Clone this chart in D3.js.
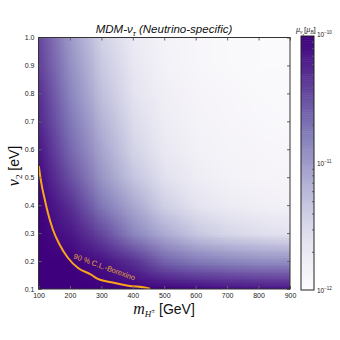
<!DOCTYPE html>
<html>
<head>
<meta charset="utf-8">
<script src="https://cdn.jsdelivr.net/npm/d3@7"></script>
<style>
  body { margin: 0; background: #fff; }
  text { font-family: "Liberation Sans", Arial, sans-serif; }
</style>
</head>
<body>
<svg id="chart" width="340" height="340"></svg>
<script>
// grid of the density plot
const massValues = [100, 200, 300, 400, 500, 600, 700, 800, 900];
const v2Values = [0.1, 0.2, 0.3, 0.4, 0.5, 0.6, 0.7, 0.8, 0.9, 1.0];

// log10(mu / mu_B), one row per v2 value (0.1 first), one entry per mass
const logMuRows = [
  [-10.0, -10.0, -10.0, -10.0, -10.0, -10.04, -10.08, -10.1, -10.12],
  [-10.0, -10.0, -10.1, -10.3, -10.6, -10.74, -10.82, -10.88, -10.9],
  [-10.0, -10.14, -10.44, -10.84, -11.12, -11.34, -11.48, -11.56, -11.62],
  [-10.0, -10.3, -10.74, -11.1, -11.42, -11.62, -11.74, -11.8, -11.84],
  [-10.06, -10.5, -10.96, -11.32, -11.6, -11.76, -11.84, -11.88, -11.9],
  [-10.14, -10.64, -11.08, -11.46, -11.7, -11.82, -11.87, -11.9, -11.92],
  [-10.24, -10.74, -11.18, -11.54, -11.76, -11.86, -11.9, -11.93, -11.94],
  [-10.3, -10.84, -11.28, -11.62, -11.8, -11.88, -11.92, -11.94, -11.96],
  [-10.4, -10.92, -11.36, -11.68, -11.84, -11.91, -11.94, -11.96, -11.97],
  [-10.44, -11.0, -11.44, -11.72, -11.86, -11.92, -11.95, -11.97, -11.98]
];

// 90% C.L. Borexino contour
const borexinoMass = [101, 109, 120, 130, 146, 167, 194, 226, 268, 284, 332, 385, 449, 455];
const borexinoV2 = [0.54, 0.479, 0.42, 0.372, 0.312, 0.259, 0.211, 0.175, 0.151, 0.139, 0.124, 0.112, 0.103, 0.1];

const xTicks = [100, 200, 300, 400, 500, 600, 700, 800, 900];
const yTicks = [0.1, 0.2, 0.3, 0.4, 0.5, 0.6, 0.7, 0.8, 0.9, 1.0];
const colorbarTicks = [1e-12, 1e-11, 1e-10];

const svg = d3.select('#chart');
const margin = { left: 38.5, right: 290, top: 37.5, bottom: 289 };

const x = d3.scaleLinear().domain([100, 900]).range([margin.left, margin.right]);
const y = d3.scaleLinear().domain([0.1, 1.0]).range([margin.bottom, margin.top]);
const muScale = d3.scaleLog().domain([1e-12, 1e-10]).range([0, 1]).clamp(true);
const color = (mu) => d3.interpolatePurples(muScale(mu));

// density: one pixel per grid point, the browser smooths it when scaled up
const cv = document.createElement('canvas');
cv.width = massValues.length;
cv.height = v2Values.length;
const ctx = cv.getContext('2d');
logMuRows.forEach((row, j) => {
  row.forEach((lm, i) => {
    ctx.fillStyle = color(Math.pow(10, lm));
    ctx.fillRect(i, v2Values.length - 1 - j, 1, 1);
  });
});

const halfX = (x(massValues[1]) - x(massValues[0])) / 2;
const halfY = (y(v2Values[0]) - y(v2Values[1])) / 2;

svg.append('clipPath')
    .attr('id', 'plot-clip')
  .append('rect')
    .attr('x', margin.left)
    .attr('y', margin.top)
    .attr('width', margin.right - margin.left)
    .attr('height', margin.bottom - margin.top);

svg.append('image')
  .attr('href', cv.toDataURL())
  .attr('x', x(massValues[0]) - halfX)
  .attr('y', y(v2Values[v2Values.length - 1]) - halfY)
  .attr('width', x(massValues[massValues.length - 1]) - x(massValues[0]) + 2 * halfX)
  .attr('height', y(v2Values[0]) - y(v2Values[v2Values.length - 1]) + 2 * halfY)
  .attr('preserveAspectRatio', 'none')
  .attr('clip-path', 'url(#plot-clip)');

// contour
const line = d3.line()
  .x((d, i) => x(borexinoMass[i]))
  .y((d, i) => y(borexinoV2[i]))
  .curve(d3.curveMonotoneX);

svg.append('path')
  .datum(borexinoMass)
  .attr('d', line)
  .attr('fill', 'none')
  .attr('stroke', '#f9a51a')
  .attr('stroke-width', 2)
  .attr('clip-path', 'url(#plot-clip)');

svg.append('text')
  .attr('transform', `translate(${x(210)},${y(0.21)}) rotate(20)`)
  .attr('font-size', 7.5)
  .attr('fill', '#e0a13a')
  .text('90 % C.L.-Borexino');

// axes, ticks pointing inwards
const styleAxis = (g) => {
  g.select('.domain').remove();
  g.selectAll('.tick line').attr('stroke', '#666');
  g.selectAll('.tick text')
    .attr('font-size', 7)
    .attr('fill', '#222')
    .attr('font-family', '"Liberation Sans", Arial, sans-serif');
};

svg.append('g')
  .attr('transform', `translate(0,${margin.bottom})`)
  .call(d3.axisBottom(x).tickValues(xTicks).tickSize(-3).tickPadding(4))
  .call(styleAxis);

svg.append('g')
  .attr('transform', `translate(0,${margin.top})`)
  .call(d3.axisTop(x).tickValues(xTicks).tickSize(-3).tickFormat(''))
  .call(styleAxis);

svg.append('g')
  .attr('transform', `translate(${margin.left},0)`)
  .call(d3.axisLeft(y).tickValues(yTicks).tickSize(-3).tickPadding(4).tickFormat(d3.format('.1f')))
  .call(styleAxis);

svg.append('g')
  .attr('transform', `translate(${margin.right},0)`)
  .call(d3.axisRight(y).tickValues(yTicks).tickSize(-3).tickFormat(''))
  .call(styleAxis);

svg.append('rect')
  .attr('x', margin.left)
  .attr('y', margin.top)
  .attr('width', margin.right - margin.left)
  .attr('height', margin.bottom - margin.top)
  .attr('fill', 'none')
  .attr('stroke', '#333')
  .attr('stroke-width', 1);

// title
const title = svg.append('text')
  .attr('x', 164)
  .attr('y', 33)
  .attr('text-anchor', 'middle')
  .attr('font-size', 11.5)
  .attr('font-style', 'italic')
  .attr('fill', '#111');
title.append('tspan').text('MDM-ν');
title.append('tspan').attr('font-size', 8).attr('dy', 3).text('τ');
title.append('tspan').attr('dy', -3).text(' (Neutrino-specific)');

// x label
const xLabel = svg.append('text')
  .attr('x', 164)
  .attr('y', 314)
  .attr('text-anchor', 'middle')
  .attr('fill', '#111');
xLabel.append('tspan')
  .attr('font-family', '"Liberation Serif", serif')
  .attr('font-style', 'italic')
  .attr('font-size', 16)
  .text('m');
xLabel.append('tspan')
  .attr('font-family', '"Liberation Serif", serif')
  .attr('font-style', 'italic')
  .attr('font-size', 9)
  .attr('dy', 3)
  .text('H');
xLabel.append('tspan')
  .attr('font-family', '"Liberation Serif", serif')
  .attr('font-size', 7)
  .attr('dy', -4)
  .text('±');
xLabel.append('tspan')
  .attr('font-size', 14)
  .attr('dy', 1)
  .text(' [GeV]');

// y label
const yLabel = svg.append('text')
  .attr('transform', 'translate(19,166) rotate(-90)')
  .attr('text-anchor', 'middle')
  .attr('fill', '#111');
yLabel.append('tspan')
  .attr('font-family', '"Liberation Serif", serif')
  .attr('font-style', 'italic')
  .attr('font-size', 16)
  .text('v');
yLabel.append('tspan')
  .attr('font-family', '"Liberation Serif", serif')
  .attr('font-size', 9)
  .attr('dy', 3)
  .text('2');
yLabel.append('tspan')
  .attr('font-size', 14)
  .attr('dy', -3)
  .text(' [eV]');

// colorbar
const cb = { left: 301, width: 13, top: 36, bottom: 290 };
const cbY = d3.scaleLog().domain([1e-12, 1e-10]).range([cb.bottom, cb.top]);
const cbSteps = d3.range(0, 120);
const cbStep = (cb.bottom - cb.top) / cbSteps.length;

svg.append('g')
  .selectAll('rect')
  .data(cbSteps)
  .enter()
    .append('rect')
      .attr('x', cb.left)
      .attr('y', (d) => cb.bottom - (d + 1) * cbStep)
      .attr('width', cb.width)
      .attr('height', cbStep + 0.5)
      .attr('fill', (d) => color(cbY.invert(cb.bottom - (d + 0.5) * cbStep)));

const minorTicks = d3.range(2, 10).map((k) => k * 1e-12)
  .concat(d3.range(2, 10).map((k) => k * 1e-11));

svg.append('g')
  .attr('transform', `translate(${cb.left + cb.width},0)`)
  .call(d3.axisRight(cbY).tickValues(minorTicks).tickSize(-2).tickFormat(''))
  .call(styleAxis);

svg.append('rect')
  .attr('x', cb.left)
  .attr('y', cb.top)
  .attr('width', cb.width)
  .attr('height', cb.bottom - cb.top)
  .attr('fill', 'none')
  .attr('stroke', '#222')
  .attr('stroke-width', 1);

const cbLabels = svg.append('g')
  .selectAll('text')
  .data(colorbarTicks)
  .enter()
    .append('text')
      .attr('x', cb.left + cb.width + 3)
      .attr('y', (d) => cbY(d) + (d === 1e-10 ? 1 : 3))
      .attr('font-size', 6.5)
      .attr('fill', '#222');
cbLabels.append('tspan').text('10');
cbLabels.append('tspan')
  .attr('font-size', 4.5)
  .attr('dy', -3)
  .text((d) => '−' + Math.round(-Math.log10(d)));

// colorbar title
const cbTitle = svg.append('text')
  .attr('x', 296)
  .attr('y', 32)
  .attr('font-size', 8)
  .attr('fill', '#222');
cbTitle.append('tspan').attr('font-family', '"Liberation Serif", serif').attr('font-style', 'italic').text('μ');
cbTitle.append('tspan').attr('font-family', '"Liberation Serif", serif').attr('font-style', 'italic').attr('font-size', 5.5).attr('dy', 2).text('ν');
cbTitle.append('tspan').attr('font-family', '"Liberation Serif", serif').attr('font-style', 'italic').attr('font-size', 4).attr('dy', 1.5).text('τ');
cbTitle.append('tspan').attr('dy', -3.5).text('[');
cbTitle.append('tspan').attr('font-family', '"Liberation Serif", serif').attr('font-style', 'italic').text('μ');
cbTitle.append('tspan').attr('font-family', '"Liberation Serif", serif').attr('font-style', 'italic').attr('font-size', 5.5).attr('dy', 2).text('B');
cbTitle.append('tspan').attr('dy', -2).text(']');
</script>
</body>
</html>
